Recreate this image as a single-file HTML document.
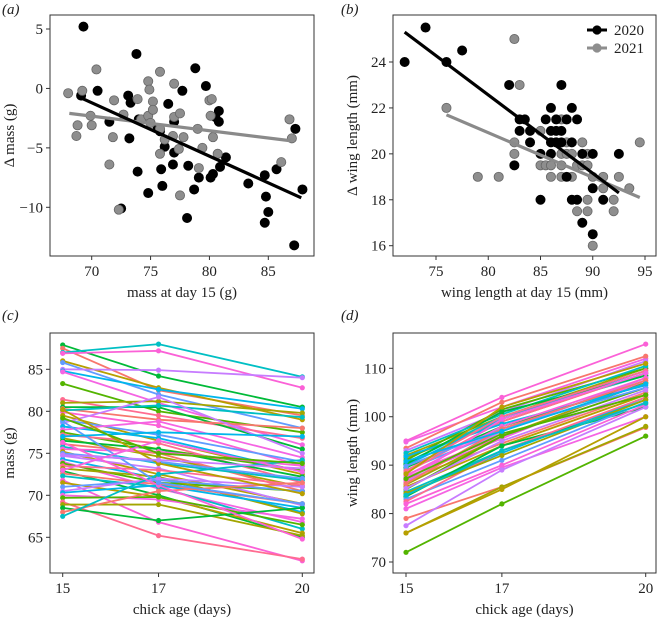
<!DOCTYPE html>
<html><head><meta charset="utf-8"><style>
html,body{margin:0;padding:0;background:#fff}
svg{display:block;font-family:"Liberation Serif",serif}
</style></head><body>
<svg id="fig" width="661" height="619" viewBox="0 0 661 619"></svg>
<script>
// Panel a data
const aBlackX=[69.3,69.1,70.5,71.5,73.1,73.3,73.8,73.2,74.0,73.9,72.5,74.8,75.6,75.8,76.5,76.2,75.9,76.0,76.9,77.0,77.0,77.7,78.2,78.1,78.7,78.8,79.1,79.7,80.1,80.3,80.5,80.8,80.8,80.9,81.4,83.3,84.7,84.8,84.7,85.0,85.7,87.3,87.9,87.2];
const aBlackY=[5.2,-0.6,-0.2,-2.8,-0.6,-1.2,2.9,-4.2,-2.6,-7.0,-10.1,-8.8,-3.4,-3.6,-1.3,-4.9,-6.8,-8.2,-6.4,-5.4,-2.8,-0.2,-6.5,-10.9,-8.5,1.7,-7.5,0.2,-7.5,-7.2,-2.4,-1.9,-2.8,-6.6,-5.8,-8.0,-7.3,-9.1,-11.3,-10.4,-6.8,-3.4,-8.5,-13.2];
const aGrayX=[68.0,68.8,68.7,69.2,70.0,70.4,69.9,71.5,71.9,71.8,72.3,72.7,73.9,74.2,74.8,74.9,74.8,75.0,75.2,75.2,75.8,75.8,75.8,76.2,77.0,77.0,76.9,77.5,77.4,77.5,77.8,79.0,79.1,79.4,80.0,80.2,80.1,80.3,80.7,86.1,86.8,87.0];
const aGrayY=[-0.4,-3.1,-4.0,-0.2,-3.1,1.6,-2.3,-6.4,-1.0,-4.1,-10.2,-2.2,-0.9,-2.6,0.6,-0.1,-2.3,-2.9,-1.1,-1.8,1.4,-3.4,-5.5,-4.3,0.4,-2.4,-4.0,-2.1,-5.1,-9.0,-4.1,-3.4,-6.7,-5.0,-1.0,-0.9,-2.3,-4.1,-5.5,-6.2,-2.6,-4.2];
const aFitBlack=[[69.1,-0.8],[87.8,-9.2]];
const aFitGray=[[68.1,-2.1],[86.9,-4.4]];
const aXTicks=[70,75,80,85];
const aYTicks=[5,0,-5,-10];
const aYLabels=["5","0","\u221210\u200b".replace("10\u200b","5").replace("\u22125","\u22125"),"\u221210"];
// Panel b data
const bBlackX=[72,74,76,77.5,82,82.5,83,83,83.5,84,84,85,85,85.5,86,86,86,86,86.5,86.5,86.5,87,87,87,87.5,87.5,88,88,88,88.5,88.5,89,89,90,90,90,91,92.5];
const bBlackY=[24,25.5,24,24.5,23,19.5,21,21.5,21.5,21,20.5,20,18,21.5,22,21,20.5,20,21,21.5,20.5,23,21,20.5,21.5,19,22,20.5,18,21.5,18,20,17,20,18.5,16.5,18,20];
const bGrayX=[76,79,81,82.5,83,82.5,82.5,85,85,85.5,86,86,86.5,87,87,87,87,87.5,87.5,88,88,88.5,88.5,89,89,89.5,89.5,89.5,89.5,90,90,91,91,92,92,92.5,93.5,94.5,87.5];
const bGrayY=[22,19,19,25,23,20.5,20,21,19.5,19.5,19.5,19,20.5,21.5,20,19.5,19,20.5,20,20,19,19.5,17.5,20.5,19.5,20,19.5,18,17.5,19,16,19,18.5,18,17.5,19,18.5,20.5,21.5];
const bFitBlack=[[72,25.3],[92.5,18.3]];
const bFitGray=[[76,21.7],[94.5,18.1]];
const bXTicks=[75,80,85,90,95];
const bYTicks=[16,18,20,22,24];
// Panel c data
const days=[15,17,20];
const cSeries=[[87.9,84.2,80.5],[87.5,82.5,79.5],[87,88,84.1],[86.9,87.2,82.8],[86,82.8,79],[85.8,82,78],[85,84.9,84],[84.8,82.6,80.3],[84.7,81,76],[83.3,80,77.5],[81.4,79.5,76.8],[81,81.2,79.8],[80.5,80.5,75.5],[80.3,79,78],[80.1,80.7,79.3],[79.9,78.3,73.5],[79.5,76.5,72.5],[79,77.2,74],[78.6,81.7,75],[78.2,76.8,72.8],[77.8,78.8,74.5],[77.5,75.5,73],[77.2,76.2,71.5],[76.8,74.6,71],[76.5,75.5,72.2],[76.1,75,70.5],[75.8,73.8,71.8],[75.5,75.2,73.5],[75.2,72.5,69],[75,74,72],[74.7,73.2,68.8],[74.3,72,68],[74,70.8,66.8],[73.8,71.5,70.5],[73.5,73,71.2],[73.2,72.2,67.8],[72.9,70,65],[72.6,71.3,69],[72.3,71,66],[71.8,66.8,62.2],[71.5,69.8,65.5],[71,71.8,70.5],[70.5,72,71],[70.3,71.2,68.5],[70,69.5,67.2],[69.7,69.8,66.5],[69.2,65.2,62.4],[68.9,68.9,65.2],[68.5,67,68.5],[68,70.5,71.5],[67.5,72.5,74.2],[76.3,71.2,64.8],[80.2,73.8,70.2],[78.8,71.5,69],[74.8,74.2,73.2],[77,77.5,77],[73,76.5,72.8],[79.2,75,73.8]];
const cYTicks=[65,70,75,80,85];
// Panel d data
const dSeries=[[95,104,115],[94.8,102,112],[93.5,103,112.5],[93,101,111.5],[92,100,110],[91.5,99,109],[91,101.5,110],[90.5,100,108.5],[90,99.5,109.5],[89.5,98,107],[89,97,108],[88.5,99,109],[88,96,106],[87.5,95.5,107.5],[87,94.5,105],[86.5,97,108],[86,96,107],[85.5,94,104.5],[85,96,106],[84.5,93,103.5],[84,92.5,104],[83.5,94,102],[83,91,103],[82.5,93,104],[82,90,102.5],[81,89.5,100],[79,85.5,97.8],[77.5,89,102],[76,85.5,98],[76,85,100],[72,82,96],[92.5,100.5,110.5],[91.8,98.5,106.5],[90.2,101,108.5],[89.8,97.5,106],[88.8,100,109.5],[87.8,98,108],[86.8,99.5,109],[86.2,97.5,107.5],[85.2,95,105.5],[84.2,92,103.5],[88.2,102,111],[87.2,96.5,104.5],[83.8,93,102.8],[90.8,97,106.8]];
const dYTicks=[70,80,90,100,110];
const palette=["#00BA38","#F8766D","#00BFC4","#FB61D7","#B79F00","#619CFF","#C77CFF","#00B6EB","#F564E3","#53B400","#FF6C91","#A3A500"];

const NS="http://www.w3.org/2000/svg";
const svg=document.getElementById('fig');
function mk(tag,attrs,parent){const e=document.createElementNS(NS,tag);for(const k in attrs)e.setAttribute(k,attrs[k]);(parent||svg).appendChild(e);return e;}
function lin(d0,d1,r0,r1){return v=>r0+(v-d0)*(r1-r0)/(d1-d0);}
function txt(s,x,y,size,anchor,parent,rot){const t=mk('text',{x:x,y:y,'font-size':size,'text-anchor':anchor,fill:'#222'},parent);if(rot)t.setAttribute('transform','rotate(-90 '+x+' '+y+')');t.textContent=s;return t;}
function fmt(v){return v<0?"\u2212"+Math.abs(v):String(v);}

function panel(name,box,sx,sy,xt,yt,xl,yl,tag){
  const g=mk('g',{});
  
  
  const fr=mk('rect',{x:box[0],y:box[1],width:box[2]-box[0],height:box[3]-box[1],fill:'none',stroke:'#333','stroke-width':1},g);
  
  
  const xa=mk('g',{},g);
  
  
  xt.forEach(v=>{const x=sx(v);mk('line',{x1:x,x2:x,y1:box[3],y2:box[3]+4,stroke:'#333'},xa);const t=txt(String(v),x,box[3]+20,15,'middle',xa);});
  const ya=mk('g',{},g);
  
  
  yt.forEach(v=>{const y=sy(v);mk('line',{x1:box[0]-4,x2:box[0],y1:y,y2:y,stroke:'#333'},ya);const t=txt(fmt(v),box[0]-7,y+5,15,'end',ya);});
  const xtit=txt(xl,(box[0]+box[2])/2,box[3]+41,15,'middle',g);
  
  
  const yx=box[0]-36;
  const ytit=txt(yl,yx,(box[1]+box[3])/2,15,'middle',g,true);
  
  
  const pt=mk('text',{x:tag[1],y:tag[2],'font-size':15,'font-style':'italic',fill:'#222'},g);
  
  
  pt.textContent=tag[0];
  return g;
}
function scatter(g,X,Y,sx,sy,fill,stroke,name){
  X.forEach((v,i)=>{const c=mk('circle',{cx:sx(v),cy:sy(Y[i]),r:4.6,fill:fill,stroke:stroke,'stroke-width':0.8},g);
  
  });
}
function fit(g,F,sx,sy,col,name){const l=mk('line',{x1:sx(F[0][0]),y1:sy(F[0][1]),x2:sx(F[1][0]),y2:sy(F[1][1]),stroke:col,'stroke-width':3.2},g);
  
  }

// Panel a
{const box=[50,15,314,256];const sx=lin(70,85,91.7,268.3),sy=lin(5,-10,29,207.3);
 const g=panel('panel-a',box,sx,sy,aXTicks,aYTicks,'mass at day 15 (g)','\u0394 mass (g)',['(a)',2,14]);
 scatter(g,aBlackX,aBlackY,sx,sy,'#000','#000','point-2020');
 scatter(g,aGrayX,aGrayY,sx,sy,'#8e8e8e','#666','point-2021');
 fit(g,aFitGray,sx,sy,'#8a8a8a','fit-2021');
 fit(g,aFitBlack,sx,sy,'#000','fit-2020');}
// Panel b
{const box=[393,15,656,256];const sx=lin(75,95,436,645),sy=lin(24,16,62,245.7);
 const g=panel('panel-b',box,sx,sy,bXTicks,bYTicks,'wing length at day 15 (mm)','\u0394 wing length (mm)',['(b)',341,14]);
 scatter(g,bGrayX,bGrayY,sx,sy,'#8e8e8e','#666','point-2021');
 scatter(g,bBlackX,bBlackY,sx,sy,'#000','#000','point-2020');
 fit(g,bFitGray,sx,sy,'#8a8a8a','fit-2021');
 fit(g,bFitBlack,sx,sy,'#000','fit-2020');
 const lg=mk('g',{},g);
 
 
 [['2020','#000',30],['2021','#8e8e8e',48]].forEach(e=>{
   const it=mk('g',{},lg);
   
   
   mk('line',{x1:587,x2:607,y1:e[2],y2:e[2],stroke:e[1],'stroke-width':3},it);
   mk('circle',{cx:597,cy:e[2],r:4.6,fill:e[1]},it);
   txt(e[0],614,e[2]+5,15,'start',it);});}
// Panel c
{const box=[50,333,314,573];const sx=lin(15,20,62.7,302.3),sy=lin(85,65,369.3,537.3);
 const g=panel('panel-c',box,sx,sy,days,cYTicks,'chick age (days)','mass (g)',['(c)',2,320]);
 cSeries.forEach((s,i)=>{const col=palette[i%palette.length];
   const sg=mk('g',{},g);
   
   
   mk('polyline',{points:s.map((v,j)=>sx(days[j])+','+sy(v)).join(' '),fill:'none',stroke:col,'stroke-width':1.8},sg);
   s.forEach((v,j)=>mk('circle',{cx:sx(days[j]),cy:sy(v),r:2.6,fill:col},sg));});}
// Panel d
{const box=[393,333,656,573];const sx=lin(15,20,406,645.7),sy=lin(110,70,368.3,562);
 const g=panel('panel-d',box,sx,sy,days,dYTicks,'chick age (days)','wing length (mm)',['(d)',341,320]);
 dSeries.forEach((s,i)=>{const col=palette[(i*5+3)%palette.length];
   const sg=mk('g',{},g);
   
   
   mk('polyline',{points:s.map((v,j)=>sx(days[j])+','+sy(v)).join(' '),fill:'none',stroke:col,'stroke-width':1.8},sg);
   s.forEach((v,j)=>mk('circle',{cx:sx(days[j]),cy:sy(v),r:2.6,fill:col},sg));});}
</script>
</body></html>
